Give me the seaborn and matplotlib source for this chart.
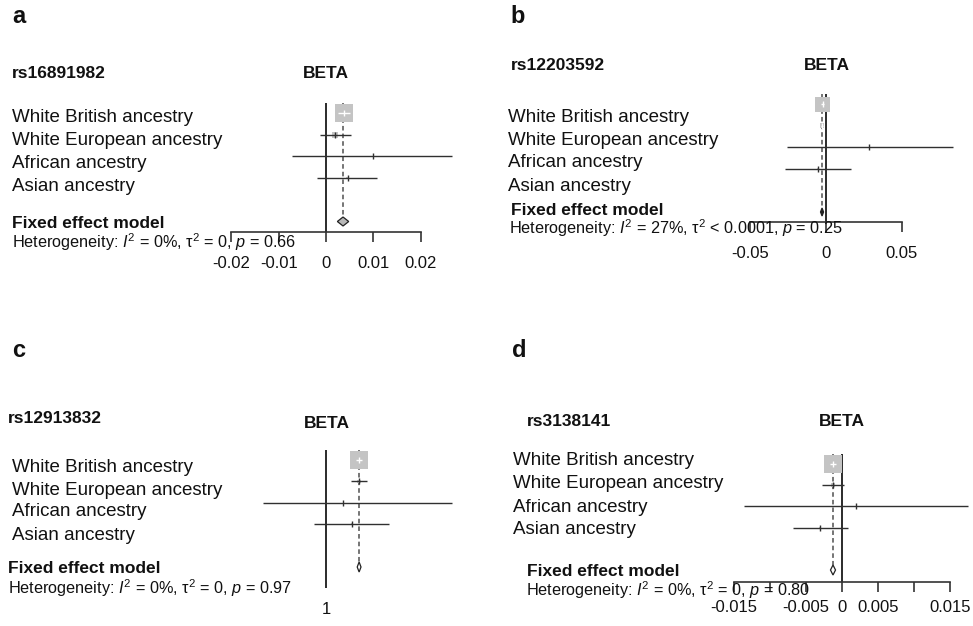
import numpy as np
import pandas as pd
import matplotlib
matplotlib.use("Agg")
import matplotlib.pyplot as plt
import seaborn as sns
from matplotlib.patches import Polygon

sns.set_theme(style="white")
plt.rcParams['font.family'] = ['Liberation Sans', 'DejaVu Sans']
plt.rcParams['mathtext.fontset'] = 'custom'
plt.rcParams['mathtext.rm'] = 'Liberation Sans'
plt.rcParams['mathtext.it'] = 'Liberation Sans:italic'

W, H = 973, 626

studies = ["White British ancestry", "White European ancestry",
           "African ancestry", "Asian ancestry"]

# a: rs16891982
a_snp = "rs16891982"
a_est = [0.0038, 0.0019, 0.0099, 0.0046]
a_lo = [0.0025, -0.0013, -0.0072, -0.0019]
a_hi = [0.0051, 0.0053, 0.0266, 0.0108]
a_w = [88, 9, 0.4, 2]
a_pooled = [0.0036, 0.0024, 0.0048]
a_ticks = [-0.02, -0.01, 0, 0.01, 0.02]
a_ticklabels = ["-0.02", "-0.01", "0", "0.01", "0.02"]
a_het = r"Heterogeneity: $I^2$ = 0%, τ$^2$ = 0, $p$ = 0.66"

# b: rs12203592
b_snp = "rs12203592"
b_est = [-0.0020, -0.0026, 0.0283, -0.0053]
b_lo = [-0.0030, -0.0032, -0.0257, -0.0270]
b_hi = [-0.0010, -0.0020, 0.0836, 0.0164]
b_w = [95, 8, 0.3, 1.5]
b_pooled = [-0.0026, -0.0036, -0.0016]
b_ticks = [-0.05, 0, 0.05]
b_ticklabels = ["-0.05", "0", "0.05"]
b_het = r"Heterogeneity: $I^2$ = 27%, τ$^2$ < 0.0001, $p$ = 0.25"

# c: rs12913832 (null line labelled 1)
c_snp = "rs12913832"
c_est = [1.0070, 1.0070, 1.0036, 1.0055]
c_lo = [1.0063, 1.0053, 0.9867, 0.9975]
c_hi = [1.0077, 1.0087, 1.0266, 1.0133]
c_w = [90, 3, 0.3, 0.8]
c_pooled = [1.0070, 1.0066, 1.0074]
c_ticks = [1]
c_ticklabels = ["1"]
c_het = r"Heterogeneity: $I^2$ = 0%, τ$^2$ = 0, $p$ = 0.97"

# d: rs3138141
d_snp = "rs3138141"
d_est = [-0.00125, -0.00125, 0.0019, -0.0031]
d_lo = [-0.0016, -0.0028, -0.0136, -0.0068]
d_hi = [-0.0009, 0.0003, 0.0175, 0.0008]
d_w = [90, 5, 0.3, 1]
d_pooled = [-0.00125, -0.0016, -0.0009]
d_ticks = [-0.015, -0.01, -0.005, 0, 0.005, 0.01, 0.015]
d_ticklabels = ["-0.015", "", "-0.005", "0", "0.005", "", "0.015"]
d_het = r"Heterogeneity: $I^2$ = 0%, τ$^2$ = 0, $p$ = 0.80"

# pixel layout of each panel (null position, px per unit, first row, row step, axis line, box)
layout = {
    'a': dict(null=0, null_px=326, ppu=4730, row0=113, sp=21.7, axis=232, L=180, R=470, T=95,
              box=18, dia_h=9, dia_fc='#b8b8b8', spine=True, pad=10,
              letter=(12, 23), snp=(12, 78), beta=(326, 78), rows_x=12,
              rows_y=[122, 145.5, 168, 191], fixed=(12, 227.5), het=(12, 248)),
    'b': dict(null=0, null_px=826, ppu=1520, row0=104, sp=21.6, axis=222, L=740, R=965, T=88,
              box=15, dia_h=8, dia_fc='#222222', spine=True, pad=10,
              letter=(510, 23), snp=(511, 70), beta=(827, 70), rows_x=508,
              rows_y=[121.5, 145, 167, 191], fixed=(511, 215.5), het=(509, 234.5)),
    'c': dict(null=1, null_px=326, ppu=4730, row0=460, sp=21.4, axis=588, L=250, R=470, T=442,
              box=18, dia_h=10, dia_fc='white', spine=False, pad=10,
              letter=(12, 357), snp=(8, 423), beta=(327, 428), rows_x=12,
              rows_y=[471.5, 495, 516.5, 540], fixed=(8, 573), het=(8, 594)),
    'd': dict(null=0, null_px=842, ppu=7200, row0=464, sp=21.2, axis=582, L=720, R=972, T=445,
              box=18, dia_h=10, dia_fc='white', spine=True, pad=6,
              letter=(512, 357), snp=(527, 426.5), beta=(842, 426.5), rows_x=513,
              rows_y=[465, 488.5, 511.5, 534.5], fixed=(527, 576.5), het=(526, 596)),
}

panels = [
    ('a', a_snp, a_est, a_lo, a_hi, a_w, a_pooled, a_ticks, a_ticklabels, a_het),
    ('b', b_snp, b_est, b_lo, b_hi, b_w, b_pooled, b_ticks, b_ticklabels, b_het),
    ('c', c_snp, c_est, c_lo, c_hi, c_w, c_pooled, c_ticks, c_ticklabels, c_het),
    ('d', d_snp, d_est, d_lo, d_hi, d_w, d_pooled, d_ticks, d_ticklabels, d_het),
]


def ftext(fig, xy, s, **kw):
    fig.text(xy[0] / W, 1 - xy[1] / H, s, va='baseline', ha=kw.pop('ha', 'left'), **kw)


def forest(fig, key, snp, est, lo, hi, w, pooled, ticks, ticklabels, het):
    lay = layout[key]
    L, R, T, B = lay['L'], lay['R'], lay['T'], lay['axis']
    ax = fig.add_axes([L / W, 1 - B / H, (R - L) / W, (B - T) / H])
    ax.patch.set_alpha(0)

    df = pd.DataFrame({'est': est, 'lo': lo, 'hi': hi, 'weight': w,
                       'row': np.arange(len(est))})
    pooled_row = len(est) + 1

    x0 = lay['null'] + (L - lay['null_px']) / lay['ppu']
    x1 = lay['null'] + (R - lay['null_px']) / lay['ppu']
    ax.set_xlim(x0, x1)
    ybot = (B - lay['row0']) / lay['sp']
    ytop = (T - lay['row0']) / lay['sp']
    ax.set_ylim(ybot, ytop)
    top = -0.46

    # null line and dashed pooled line
    ax.vlines(lay['null'], top, ybot, color='#1a1a1a', lw=1.3, zorder=2)
    dia_half = lay['dia_h'] / 2 / lay['sp']
    ax.vlines(pooled[0], top, pooled_row - dia_half, color='#505050', lw=1.1,
              linestyles=(0, (3, 2)), zorder=2)

    # study boxes (area proportional to weight)
    smax = (lay['box'] * 72 / 100) ** 2
    sns.scatterplot(data=df, x='est', y='row', size='weight', sizes=(0, smax),
                    size_norm=(0, max(w)), marker='s', color='#c4c4c4',
                    edgecolor='none', legend=False, ax=ax, zorder=3)

    # confidence intervals
    for _, r in df.iterrows():
        half_box = lay['box'] * np.sqrt(r['weight'] / max(w)) / 2 / lay['ppu']
        inside = (r['hi'] - r['lo']) / 2 < half_box
        col = 'white' if inside else '#303030'
        ax.hlines(r['row'], r['lo'], r['hi'], color=col, lw=1.0, zorder=4)
        ax.plot(r['est'], r['row'], marker='|', ms=4, mew=1.0, color=col, zorder=5)

    # pooled diamond
    est_p, lo_p, hi_p = pooled
    dia = Polygon([[lo_p, pooled_row], [est_p, pooled_row - dia_half],
                   [hi_p, pooled_row], [est_p, pooled_row + dia_half]],
                  closed=True, facecolor=lay['dia_fc'], edgecolor='#222222', lw=0.9, zorder=5)
    ax.add_patch(dia)

    sns.despine(ax=ax, left=True, top=True, right=True, bottom=not lay['spine'])
    ax.set_yticks([])
    ax.set_xlabel('')
    ax.set_ylabel('')
    ax.set_xticks(ticks, ticklabels)
    if lay['spine']:
        ax.spines['bottom'].set_bounds(ticks[0], ticks[-1])
        ax.spines['bottom'].set_color('#333333')
        ax.spines['bottom'].set_linewidth(1.2)
        ax.tick_params(axis='x', bottom=True, length=7.2, width=1.2, color='#333333',
                       labelsize=12, pad=lay['pad'], labelcolor='#111111')
    else:
        ax.tick_params(axis='x', bottom=True, length=0, labelsize=12,
                       pad=lay['pad'], labelcolor='#111111')

    # texts
    ftext(fig, lay['letter'], key, fontsize=17, fontweight='bold', color='#111111')
    ftext(fig, lay['snp'], snp, fontsize=12.5, fontweight='bold', color='#111111')
    ftext(fig, lay['beta'], "BETA", fontsize=12.5, fontweight='bold', color='#111111', ha='center')
    for name, y in zip(studies, lay['rows_y']):
        ftext(fig, (lay['rows_x'], y), name, fontsize=13.5, color='#111111')
    ftext(fig, lay['fixed'], "Fixed effect model", fontsize=12.5, fontweight='bold', color='#111111')
    ftext(fig, lay['het'], het, fontsize=11.7, color='#111111')


fig = plt.figure(figsize=(W / 100, H / 100), dpi=100)
for p in panels:
    forest(fig, *p)

plt.savefig("out.png", dpi=100)
plt.close()
